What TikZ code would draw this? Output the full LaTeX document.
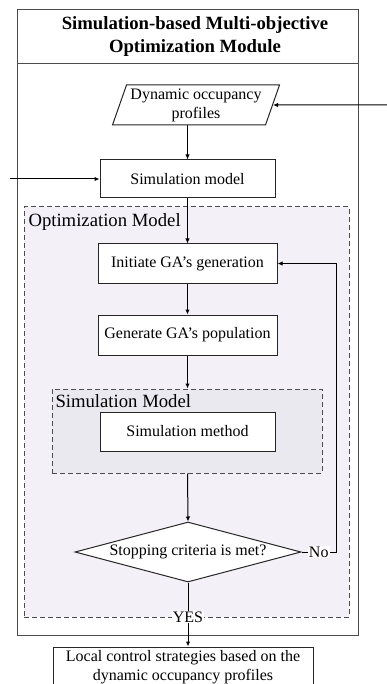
\documentclass[tikz,border=0pt]{standalone}
\usepackage{fontspec}
\setmainfont{Liberation Serif}
\usetikzlibrary{positioning,arrows.meta,shapes.geometric}
\definecolor{optfill}{RGB}{243,241,247}
\definecolor{simfill}{RGB}{235,233,240}

\begin{document}
\begin{tikzpicture}[x=1pt,y=-1pt,line width=1pt,
  >={Latex[length=5pt,width=4.5pt]},
  every node/.style={font=\fontsize{16}{19}\selectfont},
  procbox/.style={draw=black!85,fill=white,inner sep=0pt,align=center},
  groupbox/.style={draw=black!70,dash pattern=on 5pt off 3pt,inner sep=0pt},
  grouplabel/.style={anchor=west,inner sep=0pt,font=\fontsize{18.7}{22}\selectfont},
  flag/.style={fill=white,inner sep=1pt}]
\clip (0,0) rectangle (387,684);
% module frame
\draw[black!70] (17,10) rectangle (358,635);
\draw[black!70] (17,64) -- (358,64);
\node[align=center,font=\fontsize{18.7}{23}\selectfont\bfseries] (title) at (195,36.5)
  {Simulation-based Multi-objective\\Optimization Module};
% dashed groups
\node[groupbox,fill=optfill,minimum width=325,minimum height=410] (opt) at (186.5,412) {};
\node[grouplabel] (optlabel) at (28,222) {Optimization Model};
\node[groupbox,fill=simfill,minimum width=270,minimum height=84] (simgrp) at (187,431) {};
\node[grouplabel] (simlabel) at (55,401) {Simulation Model};
% steps
\node[procbox,trapezium,trapezium left angle=67,trapezium right angle=113,
  trapezium stretches body,minimum width=167,minimum height=40] (dop) at (196,105)
  {Dynamic occupancy\\profiles};
\node[procbox,minimum width=175,minimum height=38] (sim) at (187.5,179) {Simulation model};
\node[procbox,minimum width=179,minimum height=39] (init) at (187.5,263.5) {Initiate GA's generation};
\node[procbox,minimum width=179,minimum height=40] (gen) at (187.5,335) {Generate GA's population};
\node[procbox,minimum width=175,minimum height=39] (method) at (187.5,431.5) {Simulation method};
\node[procbox,diamond,aspect=3.77,minimum width=226,minimum height=60] (stop) at (188,552)
  {Stopping criteria is met?};
\node[procbox,minimum width=260,minimum height=41] (local) at (183,667.5)
  {Local control strategies based on the\\dynamic occupancy profiles};
% inputs and loop
\coordinate (inR) at (387,105);
\coordinate (inL) at (10,179);
\coordinate (noturn) at (336,552);
\draw[->] (inR) -- (dop.east);
\draw[->] (inL) -- (sim.west);
\draw[->] (sim.north |- dop.south) -- (sim.north);
\draw[->] (sim.south) -- (init.north);
\draw[->] (init.south) -- (gen.north);
\draw[->] (gen.south) -- (gen.south |- simgrp.north);
\draw[->] (gen.south |- simgrp.south) -- (stop.north);
\draw[->] (stop.east) -- node[flag] (no) {No} (noturn) |- (init.east);
\draw[->] (stop.south) -- node[flag,pos=0.54] (yes) {YES} (stop.south |- local.north);
\end{tikzpicture}
\end{document}
